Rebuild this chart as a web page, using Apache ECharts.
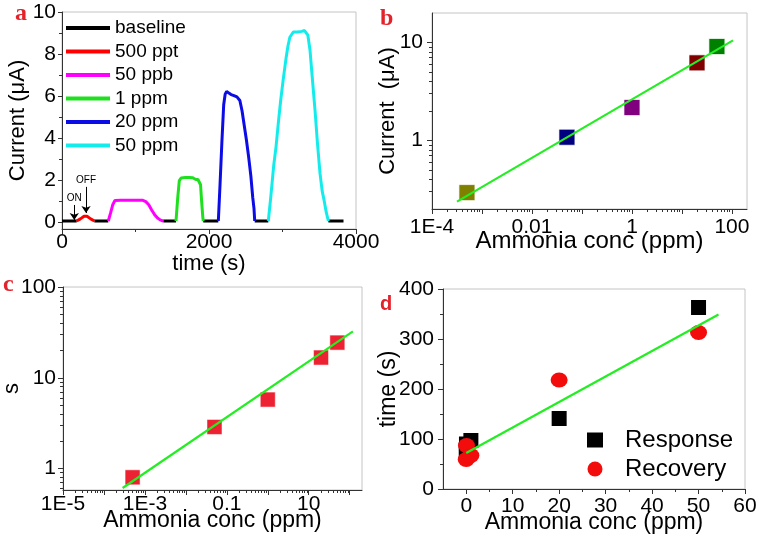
<!DOCTYPE html>
<html><head><meta charset="utf-8">
<script src="https://cdn.jsdelivr.net/npm/echarts@6/dist/echarts.min.js"></script>
<style>html,body{margin:0;padding:0;background:#fff}#c{width:759px;height:536px}</style>
</head><body><div id="c"></div>
<script>
// ---------------- Panel a : current vs time ----------------
const aNames = ['baseline', '500 ppt', '50 ppb', '1 ppm', '20 ppm', '50 ppm'];
const aBaseT = [0, 200, null, 440, 630, null, 1378, 1551, null, 1922, 2127, null, 2622, 2807, null, 3624, 3830];
const aBaseI = [0.08, 0.08, null, 0.08, 0.08, null, 0.08, 0.08, null, 0.08, 0.08, null, 0.08, 0.08, null, 0.08, 0.08];
const aRedT = [200, 250, 300, 340, 390, 440];
const aRedI = [0.08, 0.18, 0.30, 0.30, 0.18, 0.08];
const aMagT = [630, 660, 690, 720, 800, 900, 1000, 1100, 1140, 1180, 1220, 1260, 1300, 1340, 1378];
const aMagI = [0.08, 0.45, 0.85, 1.05, 1.06, 1.06, 1.07, 1.06, 1.00, 0.85, 0.60, 0.38, 0.22, 0.12, 0.08];
const aGrnT = [1551, 1575, 1596, 1620, 1680, 1730, 1780, 1820, 1850, 1875, 1885, 1900, 1915, 1922];
const aGrnI = [0.08, 1.20, 2.00, 2.12, 2.15, 2.14, 2.13, 2.05, 2.05, 2.03, 1.80, 1.00, 0.30, 0.08];
const aBluT = [2127, 2150, 2175, 2200, 2220, 2240, 2270, 2300, 2340, 2380, 2420, 2450, 2480, 2510, 2540, 2570, 2595, 2612, 2622];
const aBluI = [0.08, 1.80, 3.80, 5.60, 6.10, 6.23, 6.15, 6.08, 6.03, 5.97, 5.80, 5.30, 4.60, 3.90, 3.10, 2.20, 1.20, 0.68, 0.08];
const aCyaT = [2807, 2840, 2880, 2912, 2945, 2975, 3010, 3048, 3075, 3100, 3147, 3200, 3260, 3300, 3320, 3345, 3374, 3400, 3442, 3475, 3510, 3540, 3565, 3595, 3624];
const aCyaI = [0.08, 1.20, 2.70, 3.60, 4.80, 5.80, 6.80, 7.80, 8.40, 8.80, 9.05, 9.05, 9.08, 9.12, 9.20, 8.90, 8.20, 7.10, 5.36, 3.80, 2.35, 1.50, 1.08, 0.50, 0.08];
const aYTicks = [0, 2, 4, 6, 8, 10];
const aYMinor = [1, 3, 5, 7, 9];
// annotation arrows (time, current): start -> end
const onArrow = [[167, 0.84], [167, 0.13]];
const offArrow = [[327, 1.70], [327, 0.46]];

// ---------------- Panel b : current vs conc (log-log) ----------------
const concB = [0.0005, 0.05, 1, 20, 50];
const currentB = [0.294, 1.08, 2.17, 6.2, 9.1];
const fitBx = [0.000316, 105];
const fitBy = [0.238, 10.5];

// ---------------- Panel c : S vs conc (log-log) ----------------
const concC = [0.0005, 0.05, 1, 20, 50];
const sC = [0.80, 2.87, 5.75, 16.7, 24.4];
const fitCx = [0.000286, 120];
const fitCy = [0.61, 32.5];

// ---------------- Panel d : time vs conc ----------------
const concD = [0.0005, 0.05, 1, 20, 50];
const responseD = [78, 90, 97, 141, 363];
const recoveryD = [59, 87, 67, 218, 313];
const fitDx = [0, 54.3];
const fitDy = [72, 349];
const dXTicks = [0, 10, 20, 30, 40, 50, 60];
const dXMinor = [5, 15, 25, 35, 45, 55];

// ---------------- styles ----------------
const FONT = '"Liberation Sans", Arial, sans-serif';
const SERIF = '"Liberation Serif", "Times New Roman", serif';
const RED = '#e3222b';
const aColors = ['#000000', '#ff0000', '#ff00ff', '#1ee01e', '#0c0ce6', '#14ecec'];
const bColors = ['#808000', '#000080', '#800080', '#800000', '#008000'];
const FIT = '#22ee22';
const AX = '#333';

const lg = Math.log10;
function minorLog(lo, hi) {
  const out = [];
  for (let n = Math.floor(lo) - 1; n <= Math.ceil(hi); n++)
    for (let k = 2; k <= 9; k++) { const v = n + lg(k); if (v > lo + 1e-9 && v < hi - 1e-9) out.push(v); }
  return out;
}
function ints(lo, hi) { const o = []; for (let n = Math.ceil(lo - 1e-9); n <= Math.floor(hi + 1e-9); n++) o.push(n); return o; }
function fmtLog(v) { const r = Math.round(v); if (r <= -3) return '1E' + r; return String(Number(Math.pow(10, r).toPrecision(3))); }
function fmtPlain(v) { return String(v); }
function pairs(xs, ys, fx, fy) {
  return xs.map((x, i) => (x === null || ys[i] === null) ? ['-', '-'] : [fx ? fx(x) : x, fy ? fy(ys[i]) : ys[i]]);
}

function mainAxis(o) {
  return Object.assign({
    type: 'value', splitLine: { show: false },
    axisLine: { show: true, onZero: false, lineStyle: { color: AX, width: 1 } },
    axisTick: { show: true, length: 5, lineStyle: { color: AX, width: 1 } },
    axisLabel: { color: '#000', fontSize: 21, fontFamily: FONT },
    nameLocation: 'middle', nameMoveOverlap: false,
    nameTextStyle: { color: '#000', fontSize: 23, fontFamily: FONT }
  }, o);
}
function minorAxis(o, vals) {
  return Object.assign({
    type: 'value', splitLine: { show: false },
    axisLine: { show: false, onZero: false },
    axisLabel: { show: false },
    axisTick: { show: true, length: 3, customValues: vals, lineStyle: { color: AX, width: 1 } }
  }, o);
}

const grids = [
  { left: 62, top: 12, width: 294, height: 217 },
  { left: 432, top: 13, width: 315, height: 196 },
  { left: 63, top: 287, width: 299, height: 203 },
  { left: 443, top: 289, width: 302, height: 200 }
].map(g => Object.assign({ show: true, borderColor: '#c4c4c4', borderWidth: 1, backgroundColor: 'transparent', containLabel: false, outerBoundsMode: 'none' }, g));

const bXmin = -4, bXmax = lg(200), bYmin = lg(0.2), bYmax = lg(20);
const cXmin = -5, cXmax = lg(200), cYmin = lg(0.58), cYmax = 2;

const xAxes = [
  // 0 a
  mainAxis({ gridIndex: 0, position: 'bottom', min: 0, max: 4000, interval: 2000,
    minorTick: { show: true, splitNumber: 2, length: 3, lineStyle: { color: AX } },
    axisLabel: { color: '#000', fontSize: 21, fontFamily: FONT, margin: 3, formatter: fmtPlain },
    name: 'time (s)', nameGap: 24, nameTextStyle: { color: '#000', fontSize: 22, fontFamily: FONT } }),
  // 1 b main
  mainAxis({ gridIndex: 1, position: 'bottom', min: bXmin, max: bXmax,
    axisTick: { show: true, length: 5, customValues: ints(bXmin, bXmax), lineStyle: { color: AX } },
    axisLabel: { color: '#000', fontSize: 21, fontFamily: FONT, margin: 8, customValues: [-4, -2, 0, 2], formatter: fmtLog },
    name: 'Ammonia conc (ppm)', nameGap: 20, nameTextStyle: { color: '#000', fontSize: 24, fontFamily: FONT } }),
  // 2 b minor
  minorAxis({ gridIndex: 1, position: 'bottom', min: bXmin, max: bXmax }, minorLog(bXmin, bXmax)),
  // 3 c main
  mainAxis({ gridIndex: 2, position: 'bottom', min: cXmin, max: cXmax,
    axisTick: { show: true, length: 5, customValues: ints(cXmin, cXmax), lineStyle: { color: AX } },
    axisLabel: { color: '#000', fontSize: 21, fontFamily: FONT, margin: 4, customValues: [-5, -3, -1, 1], formatter: fmtLog },
    name: 'Ammonia conc (ppm)', nameGap: 19, nameTextStyle: { color: '#000', fontSize: 23, fontFamily: FONT } }),
  // 4 c minor
  minorAxis({ gridIndex: 2, position: 'bottom', min: cXmin, max: cXmax }, minorLog(cXmin, cXmax)),
  // 5 d main
  mainAxis({ gridIndex: 3, position: 'bottom', min: -5, max: 60,
    axisTick: { show: true, length: 5, customValues: dXTicks, lineStyle: { color: AX } },
    axisLabel: { color: '#000', fontSize: 21, fontFamily: FONT, margin: 7, customValues: dXTicks },
    name: 'Ammonia conc (ppm)', nameGap: 22, nameTextStyle: { color: '#000', fontSize: 23, fontFamily: FONT } }),
  // 6 d minor
  minorAxis({ gridIndex: 3, position: 'bottom', min: -5, max: 60 }, dXMinor)
];

const yAxes = [
  // 0 a main
  mainAxis({ gridIndex: 0, position: 'left', min: -0.3, max: 10,
    axisTick: { show: true, length: 4, customValues: aYTicks, lineStyle: { color: AX } },
    axisLabel: { color: '#000', fontSize: 21, fontFamily: FONT, margin: 6, customValues: aYTicks },
    name: 'Current (\u03bcA)', nameGap: 33, nameTextStyle: { color: '#000', fontSize: 22, fontFamily: FONT } }),
  // 1 a minor
  minorAxis({ gridIndex: 0, position: 'left', min: -0.3, max: 10 }, aYMinor),
  // 2 b main
  mainAxis({ gridIndex: 1, position: 'left', min: bYmin, max: bYmax,
    axisTick: { show: true, length: 5, customValues: ints(bYmin, bYmax), lineStyle: { color: AX } },
    axisLabel: { color: '#000', fontSize: 21, fontFamily: FONT, margin: 9, customValues: ints(bYmin, bYmax), formatter: fmtLog },
    name: 'Current  (\u03bcA)', nameGap: 33, nameTextStyle: { color: '#000', fontSize: 22, fontFamily: FONT } }),
  // 3 b minor
  minorAxis({ gridIndex: 1, position: 'left', min: bYmin, max: bYmax }, minorLog(bYmin, bYmax)),
  // 4 c main
  mainAxis({ gridIndex: 2, position: 'left', min: cYmin, max: cYmax,
    axisTick: { show: true, length: 5, customValues: ints(cYmin, cYmax), lineStyle: { color: AX } },
    axisLabel: { color: '#000', fontSize: 21, fontFamily: FONT, margin: 7, customValues: ints(cYmin, cYmax), formatter: fmtLog },
    name: 's', nameGap: 40, nameTextStyle: { color: '#000', fontSize: 22, fontFamily: FONT } }),
  // 5 c minor
  minorAxis({ gridIndex: 2, position: 'left', min: cYmin, max: cYmax }, minorLog(cYmin, cYmax)),
  // 6 d main
  mainAxis({ gridIndex: 3, position: 'left', min: 0, max: 400, interval: 100,
    minorTick: { show: true, splitNumber: 2, length: 3, lineStyle: { color: AX } },
    axisLabel: { color: '#000', fontSize: 21, fontFamily: FONT, margin: 9 },
    name: 'time (s)', nameGap: 43, nameTextStyle: { color: '#000', fontSize: 23, fontFamily: FONT } })
];

const aData = [
  pairs(aBaseT, aBaseI), pairs(aRedT, aRedI), pairs(aMagT, aMagI),
  pairs(aGrnT, aGrnI), pairs(aBluT, aBluI), pairs(aCyaT, aCyaI)
];

const series = [];
aNames.forEach((nm, i) => {
  const s = {
    name: nm, type: 'line', xAxisIndex: 0, yAxisIndex: 0, data: aData[i],
    symbol: 'none', showSymbol: false, connectNulls: false,
    lineStyle: { color: aColors[i], width: 3 }, itemStyle: { color: aColors[i] }, z: 3
  };
  if (i === 0) {
    s.markLine = {
      silent: true, animation: false, symbol: ['none', 'arrow'], symbolSize: 7,
      lineStyle: { color: '#000', width: 1, type: 'solid' },
      label: { show: true, position: 'start', distance: 2, fontSize: 10, color: '#000', fontFamily: FONT },
      data: [
        [{ coord: onArrow[0], label: { formatter: 'ON' } }, { coord: onArrow[1] }],
        [{ coord: offArrow[0], label: { formatter: 'OFF' } }, { coord: offArrow[1] }]
      ]
    };
  }
  series.push(s);
});

// b
series.push({
  name: 'b-points', type: 'scatter', xAxisIndex: 1, yAxisIndex: 2, symbol: 'rect', symbolSize: 16,
  data: concB.map((x, i) => ({ value: [lg(x), lg(currentB[i])], itemStyle: { color: bColors[i], opacity: 1 } })),
  itemStyle: { opacity: 1, borderColor: 'rgba(255,255,255,0.7)', borderWidth: 1 }
});
series.push({
  name: 'b-fit', type: 'line', xAxisIndex: 1, yAxisIndex: 2, symbol: 'none',
  data: pairs(fitBx, fitBy, lg, lg), lineStyle: { color: FIT, width: 2.2 }, z: 4
});
// c
series.push({
  name: 'c-points', type: 'scatter', xAxisIndex: 3, yAxisIndex: 4, symbol: 'rect', symbolSize: 15,
  data: pairs(concC, sC, lg, lg), itemStyle: { color: '#ec2232', opacity: 1, borderColor: 'rgba(255,255,255,0.5)', borderWidth: 1 }
});
series.push({
  name: 'c-fit', type: 'line', xAxisIndex: 3, yAxisIndex: 4, symbol: 'none',
  data: pairs(fitCx, fitCy, lg, lg), lineStyle: { color: FIT, width: 2.2 }, z: 4
});
// d
series.push({
  name: 'Response', type: 'scatter', xAxisIndex: 5, yAxisIndex: 6, symbol: 'rect', symbolSize: 15,
  data: pairs(concD, responseD), itemStyle: { color: '#000', opacity: 1 }
});
series.push({
  name: 'Recovery', type: 'scatter', xAxisIndex: 5, yAxisIndex: 6, symbol: 'circle', symbolSize: [17, 15],
  data: pairs(concD, recoveryD), itemStyle: { color: '#f20c0c', opacity: 1 }
});
series.push({
  name: 'd-fit', type: 'line', xAxisIndex: 5, yAxisIndex: 6, symbol: 'none',
  data: pairs(fitDx, fitDy), lineStyle: { color: FIT, width: 2.2 }, z: 4
});

const option = {
  animation: false,
  backgroundColor: '#fff',
  textStyle: { fontFamily: FONT },
  title: [
    { text: 'a', left: 15, top: 2, padding: 0, textStyle: { color: RED, fontFamily: SERIF, fontWeight: 'bold', fontSize: 24 } },
    { text: 'b', left: 380, top: 7, padding: 0, textStyle: { color: RED, fontFamily: SERIF, fontWeight: 'bold', fontSize: 24 } },
    { text: 'c', left: 3, top: 273, padding: 0, textStyle: { color: RED, fontFamily: SERIF, fontWeight: 'bold', fontSize: 24 } },
    { text: 'd', left: 380, top: 294, padding: 0, textStyle: { color: RED, fontFamily: FONT, fontWeight: 'bold', fontSize: 20 } }
  ],
  legend: [
    { data: aNames.map(n => ({ name: n, icon: 'rect' })), orient: 'vertical', left: 66, top: 18, padding: 0, itemGap: 3.5,
      itemWidth: 44, itemHeight: 4, selectedMode: false,
      textStyle: { color: '#000', fontSize: 19, fontFamily: FONT, lineHeight: 20 } },
    { data: ['Response', 'Recovery'], orient: 'vertical', left: 587, top: 428, padding: 0, itemGap: 5,
      itemWidth: 16, itemHeight: 15, selectedMode: false,
      formatter: n => '{t|' + n + '}',
      textStyle: { color: '#000', fontSize: 24, fontFamily: FONT, rich: { t: { fontSize: 24, fontFamily: FONT, color: '#000', padding: [0, 0, 0, 17] } } } }
  ],
  grid: grids,
  xAxis: xAxes,
  yAxis: yAxes,
  series: series
};

const chart = echarts.init(document.getElementById('c'), null, { renderer: 'canvas', width: 759, height: 536 });
chart.setOption(option);
</script>
</body></html>
